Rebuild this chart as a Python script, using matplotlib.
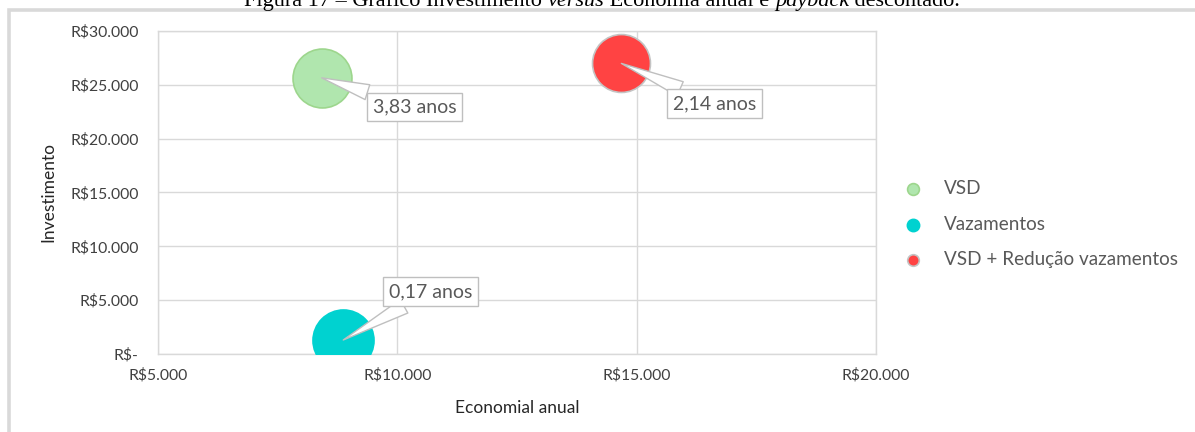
import matplotlib
matplotlib.use("Agg")
import matplotlib.pyplot as plt
from matplotlib.patches import Rectangle
from matplotlib.ticker import FuncFormatter, MultipleLocator

# ---- data ----
series = ["VSD", "Vazamentos", "VSD + Redução vazamentos"]
economia = [8420, 8870, 14680]          # Economia anual (R$)
investimento = [25650, 1300, 26990]     # Investimento (R$)
payback_labels = ["3,83 anos", "0,17 anos", "2,14 anos"]

# ---- styles ----
fills = ["#b0e6ae", "#00d2d0", "#ff4343"]
edges = ["#9dd68d", "#00d2d0", "#c4c4c4"]
bubble_s = [1800, 1930, 1740]
label_offsets = [(67, -21), (63, 35), (67, -29)]

font = "Lato"
W, H, DPI = 1195, 432, 100
fig = plt.figure(figsize=(W / DPI, H / DPI), dpi=DPI)
fig.patch.set_facecolor("white")

# outer chart frame
fig.add_artist(Rectangle((9 / W, -0.1), 1.2, 1 - 10.5 / H + 0.1, transform=fig.transFigure,
                         fill=False, edgecolor="#d9d9d9", linewidth=2.6))

ax = fig.add_axes([158 / W, 1 - 354 / H, (876 - 158) / W, (354 - 31) / H])
ax.set_xlim(5000, 20000)
ax.set_ylim(0, 30000)
ax.xaxis.set_major_locator(MultipleLocator(5000))
ax.yaxis.set_major_locator(MultipleLocator(5000))


def brl(v, pos=None):
    if abs(v) < 1e-9:
        return "R$-"
    return "R$" + f"{int(round(v)):,}".replace(",", ".")


ax.xaxis.set_major_formatter(FuncFormatter(brl))
ax.yaxis.set_major_formatter(FuncFormatter(brl))
ax.grid(True, color="#d9d9d9", linewidth=1.0)
ax.set_axisbelow(True)
for sp in ax.spines.values():
    sp.set_color("#d9d9d9")
    sp.set_linewidth(1.0)
ax.tick_params(length=0, labelsize=11.3, colors="#404040")
ax.tick_params(axis="y", pad=14)
ax.tick_params(axis="x", pad=10)
for lbl in ax.get_xticklabels() + ax.get_yticklabels():
    lbl.set_fontfamily(font)

handles = []
for i in range(len(series)):
    h = ax.scatter([economia[i]], [investimento[i]], s=bubble_s[i], c=fills[i],
                   edgecolors=edges[i], linewidths=1.2, zorder=3, label=series[i])
    handles.append(h)
    ax.annotate(payback_labels[i], xy=(economia[i], investimento[i]),
                xytext=label_offsets[i], textcoords="offset points",
                ha="center", va="center", fontsize=14, color="#595959", family=font,
                bbox=dict(boxstyle="square,pad=0.3", fc="white", ec="#bfbfbf", lw=1.0),
                arrowprops=dict(arrowstyle="wedge,tail_width=0.8,shrink_factor=0.5",
                                fc="white", ec="#bfbfbf", lw=1.0, shrinkA=0, shrinkB=0),
                zorder=4)

ax.set_xlabel("Economial anual", fontsize=12.5, family=font, color="#262626", labelpad=13)
ax.set_ylabel("Investimento", fontsize=12.5, family=font, color="#262626", labelpad=10)

leg = fig.legend(handles=handles, labels=series, loc="center left",
                 bbox_to_anchor=(877 / W, 1 - 224 / H), frameon=False,
                 prop={"family": font, "size": 13.6}, labelcolor="#595959",
                 markerscale=0.2, handletextpad=0.65, labelspacing=1.0, scatterpoints=1)

# caption (cut at top)
fig.canvas.draw()
r = fig.canvas.get_renderer()
parts = [("Figura 17 – Gráfico Investimento ", "normal"), ("versus", "italic"),
         (" Economia anual e ", "normal"), ("payback", "italic"), (" descontado.", "normal")]
texts = []
for s, st in parts:
    t = fig.text(0, 1 - 6 / H, s, family="Liberation Serif", style=st, fontsize=16,
                 va="baseline", ha="left", color="black")
    texts.append(t)
total = sum(t.get_window_extent(r).width for t in texts)
x = 602 - total / 2
for t in texts:
    t.set_x(x / W)
    x += t.get_window_extent(r).width

fig.savefig("out.png", dpi=DPI)
